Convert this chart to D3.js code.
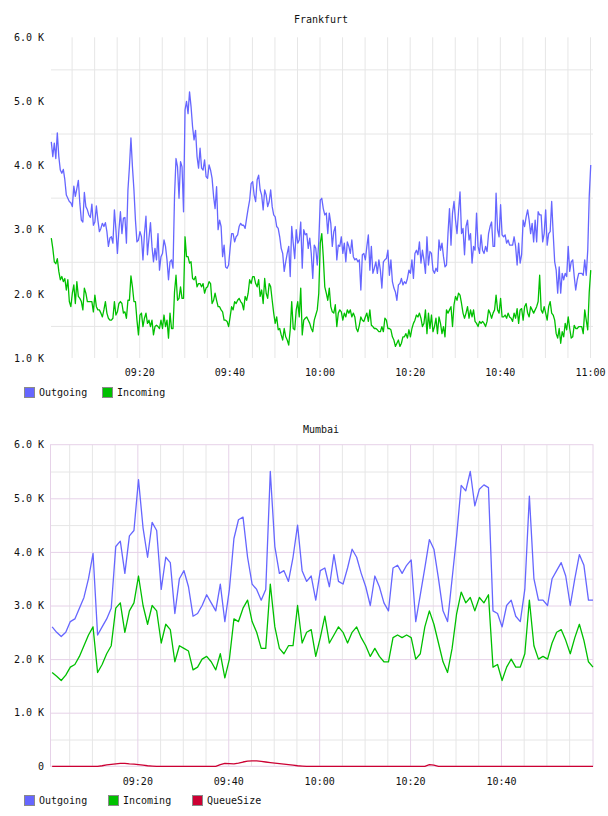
<!DOCTYPE html>
<html><head><meta charset="utf-8">
<script src="https://cdn.jsdelivr.net/npm/d3@7"></script>
<style>
body{margin:0;background:#fff;}
svg text{font-family:"DejaVu Sans Mono",monospace;font-size:10px;fill:#111;}
</style></head><body>
<svg id="c" width="608" height="816"></svg>
<script>
// ---------- DATA ----------
const seriesNames = ["Outgoing", "Incoming", "QueueSize"];
const seriesColors = ["#6666ff", "#00c000", "#cc0033"];

const fraStart = "09:00:30", fraStepSec = 20;
const fraOutgoing = [
4370,4140,4350,4110,4510,4140,3930,3880,3940,3780,
3540,3490,3440,3420,3360,3680,3520,3640,3770,3410,
3150,3120,3580,3360,3310,3230,3190,3400,3070,3120,
3370,3150,2970,3020,3100,3050,3110,2970,2740,2870,
2890,2790,3310,3000,2630,3000,3280,2940,3180,3190,
2790,3620,3980,4430,3980,3620,3150,2810,2840,2970,
2890,2530,2940,3210,2610,2870,3110,2740,2500,2710,
2530,2940,2370,2580,2630,2840,2740,2530,2220,2500,
2530,2400,3520,4110,3980,3490,4060,3980,3280,4870,
5000,4810,
5150,4920,4610,4400,4550,4140,3960,4270,3960,3930,
4090,3830,3800,4010,3930,3800,3520,3330,3670,3000,
3150,3050,2580,2760,2420,2400,2450,2710,2940,2940,
2810,2890,2920,3050,3100,3070,3070,3020,3180,3330,
3460,3720,3750,3540,3440,3780,3850,3620,3540,3310,
3620,3540,3360,3440,3620,3360,3230,3200,3050,3020,
2890,2710,2630,2350,2500,2630,2740,2270,3050,2790,
2550,3000,2790,2840,3120,2400,3000,2920,2940,2710,
2870,2630,2240,2760,2710,2450,2810,3460,3490,3330,
3230,
3260,2940,3260,3100,2740,2970,3050,2530,2760,2740,
2890,2630,2790,2500,2810,2740,2630,2840,2580,2530,
2550,2500,2530,2060,2610,2630,2530,2740,2920,2370,
2740,2320,2400,2500,2320,2530,2370,2090,2500,2530,
2550,2680,2290,2530,2190,2090,2030,1900,2140,2160,
2240,2140,2190,2160,2240,2370,2320,2530,2240,2630,
2680,2610,2810,2480,2680,2530,2320,2890,2450,2660,
2630,2370,2320,2400,2350,2840,2680,2790,2580,2420,
2450,2940,3330,2760,3260,3440,3150,2940,3280,3590,
2940,3020,
2610,3050,3150,2840,2940,2480,2740,2680,3260,2740,
2630,2920,2680,2630,2740,2660,2940,3050,3120,2740,
2740,3570,3000,2890,3390,2920,2890,2920,2790,2840,
2760,2760,2760,2890,2740,2450,2790,2480,2610,3150,
3050,3200,3310,3150,2940,3100,2810,3150,2810,3280,
3230,3230,2810,2940,3310,2760,2940,2970,3440,2940,
2500,2370,2010,2420,2010,2320,2220,2320,2270,2740,
2350,2500,2530,2270,2060,2220,2320,2320,2320,2290,
2530,2290,2680,3520,4010];
const fraIncoming = [
2870,2710,2500,2470,2550,2350,2220,2270,2190,2240,
2060,2220,1880,1800,2010,2140,1850,2190,1960,1930,
1880,1750,2090,2010,1880,1880,1880,1880,1720,1980,
1800,1750,1750,1700,1640,1750,1880,1700,1620,1590,
1590,1620,1880,1670,1720,1850,1880,1850,1700,1720,
1620,1900,1900,2280,2110,1880,1880,1590,1360,1670,
1700,1490,1620,1700,1540,1590,1490,1590,1360,1490,
1510,1490,1460,1590,1460,1670,1490,1590,1310,1700,
1460,1460,2030,2290,1900,1930,2110,1930,1930,2890,
2580,2580,
2480,2500,2240,2220,2270,2110,2160,2160,2110,2160,
2010,2090,2110,2190,2160,1850,1900,2010,1900,1800,
1800,1750,1720,1590,1590,1570,1490,1640,1800,1750,
1880,1850,1900,1930,1880,1850,1750,1960,1900,2010,
2220,2160,2270,2270,2160,2110,2220,1960,2060,1850,
2240,2010,1930,2160,2110,1900,1700,1540,1640,1440,
1460,1360,1280,1460,1330,1280,1200,1440,1880,1460,
1440,1750,1880,1640,2090,1360,1590,1620,1640,1590,
1540,1460,1410,1590,1670,1750,2010,2790,2940,2580,
2110,
2010,1900,2090,1800,1720,1700,1830,1490,1700,1750,
1720,1590,1700,1640,1750,1700,1750,1640,1700,1640,
1460,1410,1510,1640,1590,1570,1640,1700,1570,1750,
1510,1490,1460,1460,1440,1410,1410,1490,1410,1620,
1590,1460,1460,1440,1330,1280,1180,1230,1280,1180,
1230,1330,1330,1380,1310,1440,1330,1460,1540,1590,
1670,1640,1700,1620,1490,1540,1750,1380,1700,1460,
1670,1410,1490,1620,1380,1640,1540,1380,1490,1330,
1750,1700,1750,1800,1490,1830,1960,1900,2010,1980,
1850,1700,
1620,1700,1800,1620,1750,1640,1750,1570,1540,1490,
1570,1540,1570,1540,1490,1570,1750,1700,1620,1700,
1750,1980,1750,1700,1930,1640,1640,1670,1620,1700,
1640,1620,1570,1700,1620,1770,1540,1750,1770,1590,
1800,1850,1700,1640,1800,1750,1700,1750,1800,1880,
2290,1750,1700,1800,1700,1590,1800,1880,1700,1670,
1590,1380,1310,1460,1230,1410,1330,1540,1440,1640,
1460,1310,1330,1510,1460,1460,1490,1490,1490,1380,
1750,1590,1440,2030,2370];

const mumStart = "09:01:15", mumStepSec = 60;
const mumOutgoing = [
2600,2500,2420,2500,2700,2750,2950,3150,3500,3970,
2450,2600,2750,2950,4100,4200,3600,4300,4400,5350,
4450,3900,4550,4400,3300,3900,3800,2850,3500,3650,
3350,2800,2850,3000,3200,3050,2900,3400,2700,3300,
4250,4600,4650,3900,3400,3300,3100,3300,5500,4100,
3600,3650,3450,3900,4500,3650,3450,3550,3100,3650,
3700,3350,3950,3450,3400,3700,4050,3900,3600,3350,
3000,3550,3350,3050,2900,3700,3750,3600,3750,3850,
2700,3200,3700,4230,4050,3500,2900,2700,3500,4300,
5240,5140,5500,4860,5170,5250,5200,2900,2850,2600,
3000,3100,2800,2700,3300,5040,3500,3100,3100,3000,
3500,3650,3800,3550,3000,3500,3950,3750,3100,3100];
const mumIncoming = [
1750,1680,1600,1700,1850,1900,2050,2250,2450,2600,
1750,1900,2100,2250,2950,3050,2500,2900,3050,3550,
3000,2650,3000,2900,2300,2650,2550,1950,2250,2200,
2150,1800,1850,2000,2050,1950,1800,2100,1650,2000,
2750,2700,2950,3100,2700,2500,2200,2200,3400,2600,
2200,2100,2250,2250,3000,2300,2500,2550,2050,2400,
2800,2300,2450,2600,2500,2300,2500,2600,2400,2250,
2050,2200,2050,1950,1950,2400,2450,2400,2450,2400,
2000,2100,2600,2900,2650,2300,1950,1750,2200,2850,
3250,3050,3150,2900,3150,3050,3200,1850,1900,1600,
1850,2000,1850,1850,2100,3100,2250,2000,2050,2000,
2300,2500,2550,2350,2100,2400,2650,2350,1950,1850];
const mumQueue = [
0,0,0,0,0,0,0,0,0,0,
0,10,25,35,45,55,55,45,40,30,
20,10,5,0,0,0,0,0,0,0,
0,0,0,0,0,0,0,30,55,50,
45,60,80,95,100,100,90,80,70,60,
50,40,30,20,10,5,0,0,0,0,
0,0,0,0,0,0,0,0,0,0,
0,0,0,0,0,0,0,0,0,0,
0,0,0,30,20,0,0,0,0,0,
0,0,0,0,0,0,0,0,0,0,
0,0,0,0,0,0,0,0,0,0,
0,0,0,0,0,0,0,0,0,0];

const fraYTicks = [1000, 2000, 3000, 4000, 5000, 6000];
const mumYTicks = [0, 1000, 2000, 3000, 4000, 5000, 6000];
const fraXLabels = ["09:20", "09:40", "10:00", "10:20", "10:40", "11:00"];
const mumXLabels = ["09:20", "09:40", "10:00", "10:20", "10:40"];

// ---------- DRAW ----------
const parseT = d3.timeParse("%H:%M:%S");
const svg = d3.select("#c");
const fmtK = d => d === 0 ? "0" : (d / 1000).toFixed(1) + " K";

function series(start, step, vals) {
  const t0 = parseT(start);
  return vals.map((v, i) => ({ t: new Date(t0.getTime() + i * step * 1000), v }));
}

function chart(cfg) {
  const g = svg.append("g");
  const x = d3.scaleTime().domain([parseT(cfg.xFrom), parseT(cfg.xTo)]).range([51, 593]);
  const y = d3.scaleLinear().domain([cfg.yMin, 6000]).range([cfg.bottom, cfg.top]);
  const minorCol = "#e6e6e6", majorCol = "#e6d2e8";

  // vertical grid (every 5 minutes)
  const vt = d3.timeMinute.every(5).range(parseT(cfg.gridFrom), parseT(cfg.gridTo));
  const vMinor = cfg.majorGrid ? vt.filter(d => d.getMinutes() % 20 !== 0) : vt;
  const vMajor = cfg.majorGrid ? vt.filter(d => d.getMinutes() % 20 === 0) : [];
  g.append("g").attr("transform", `translate(0,${cfg.bottom})`)
    .call(d3.axisBottom(x).tickValues(vMinor).tickSize(-(cfg.bottom - cfg.top)).tickFormat(""))
    .call(a => a.select(".domain").remove())
    .call(a => a.selectAll("line").attr("stroke", minorCol));
  // horizontal minor grid (half-thousands)
  const hMinor = d3.range(500, 6000, 1000).filter(v => v > cfg.yMin);
  g.append("g").attr("transform", "translate(51,0)")
    .call(d3.axisLeft(y).tickValues(hMinor).tickSize(-542).tickFormat(""))
    .call(a => a.select(".domain").remove())
    .call(a => a.selectAll("line").attr("stroke", minorCol));
  if (cfg.majorGrid) {
    g.append("g").attr("transform", `translate(0,${cfg.bottom})`)
      .call(d3.axisBottom(x).tickValues(vMajor).tickSize(-(cfg.bottom - cfg.top)).tickFormat(""))
      .call(a => a.select(".domain").remove())
      .call(a => a.selectAll("line").attr("stroke", majorCol));
    g.append("g").attr("transform", "translate(51,0)")
      .call(d3.axisLeft(y).tickValues(d3.range(1000, 6000, 1000)).tickSize(-542).tickFormat(""))
      .call(a => a.select(".domain").remove())
      .call(a => a.selectAll("line").attr("stroke", majorCol));
    g.append("rect").attr("x", x.range()[0] - 0.5).attr("y", cfg.top)
      .attr("width", x.range()[1] - x.range()[0] + 0.5).attr("height", cfg.bottom - cfg.top)
      .attr("fill", "none").attr("stroke", majorCol);
  }

  // axes labels
  g.append("g").attr("transform", "translate(51,0)")
    .call(d3.axisLeft(y).tickValues(cfg.yTicks).tickSize(0).tickPadding(7).tickFormat(fmtK))
    .call(a => a.select(".domain").remove())
    .call(a => a.selectAll("text").attr("fill", "#111").style("font-family", "DejaVu Sans Mono").style("font-size", "10px"));
  g.append("g").attr("transform", `translate(0,${cfg.bottom})`)
    .call(d3.axisBottom(x).tickValues(cfg.xLabels.map(s => parseT(s + ":00"))).tickSize(0).tickPadding(cfg.xPad).tickFormat(d3.timeFormat("%H:%M")))
    .call(a => a.select(".domain").remove())
    .call(a => a.selectAll("text").attr("fill", "#111").style("font-family", "DejaVu Sans Mono").style("font-size", "10px"));

  // lines
  const line = d3.line().x(d => x(d.t)).y(d => y(d.v));
  cfg.series.forEach(s => {
    g.append("path").datum(s.data).attr("d", line)
      .attr("fill", "none").attr("stroke", s.color).attr("stroke-width", 1.3)
      .attr("stroke-linejoin", "round");
  });

  // title
  g.append("text").attr("x", 321).attr("y", cfg.titleY).attr("text-anchor", "middle")
    .attr("dominant-baseline", "middle").text(cfg.title);

  // legend
  cfg.series.forEach((s, i) => {
    const lx = cfg.legendX[i];
    g.append("rect").attr("x", lx + 0.5).attr("y", cfg.legendY + 0.5).attr("width", 10).attr("height", 10)
      .attr("fill", s.color).attr("stroke", "#8a8a8a");
    g.append("text").attr("x", lx + 15).attr("y", cfg.legendY + 6).attr("dominant-baseline", "middle").text(s.name);
  });
}

chart({
  title: "Frankfurt", titleY: 20,
  xFrom: "09:00:26", xTo: "11:00:40", gridFrom: "09:05:00", gridTo: "11:00:30",
  yMin: 1000, top: 37.3, bottom: 358, yTicks: fraYTicks, xLabels: fraXLabels, xPad: 11,
  majorGrid: false, legendX: [24, 102], legendY: 387,
  series: [
    { name: seriesNames[0], color: seriesColors[0], data: series(fraStart, fraStepSec, fraOutgoing) },
    { name: seriesNames[1], color: seriesColors[1], data: series(fraStart, fraStepSec, fraIncoming) }
  ]
});
chart({
  title: "Mumbai", titleY: 430,
  xFrom: "09:01:00", xTo: "11:00:15", gridFrom: "09:05:00", gridTo: "10:59:00",
  yMin: 0, top: 444.7, bottom: 766.3, yTicks: mumYTicks, xLabels: mumXLabels, xPad: 12,
  majorGrid: true, legendX: [24, 108, 192], legendY: 795,
  series: [
    { name: seriesNames[0], color: seriesColors[0], data: series(mumStart, mumStepSec, mumOutgoing) },
    { name: seriesNames[1], color: seriesColors[1], data: series(mumStart, mumStepSec, mumIncoming) },
    { name: seriesNames[2], color: seriesColors[2], data: series(mumStart, mumStepSec, mumQueue) }
  ]
});
</script>
</body></html>
